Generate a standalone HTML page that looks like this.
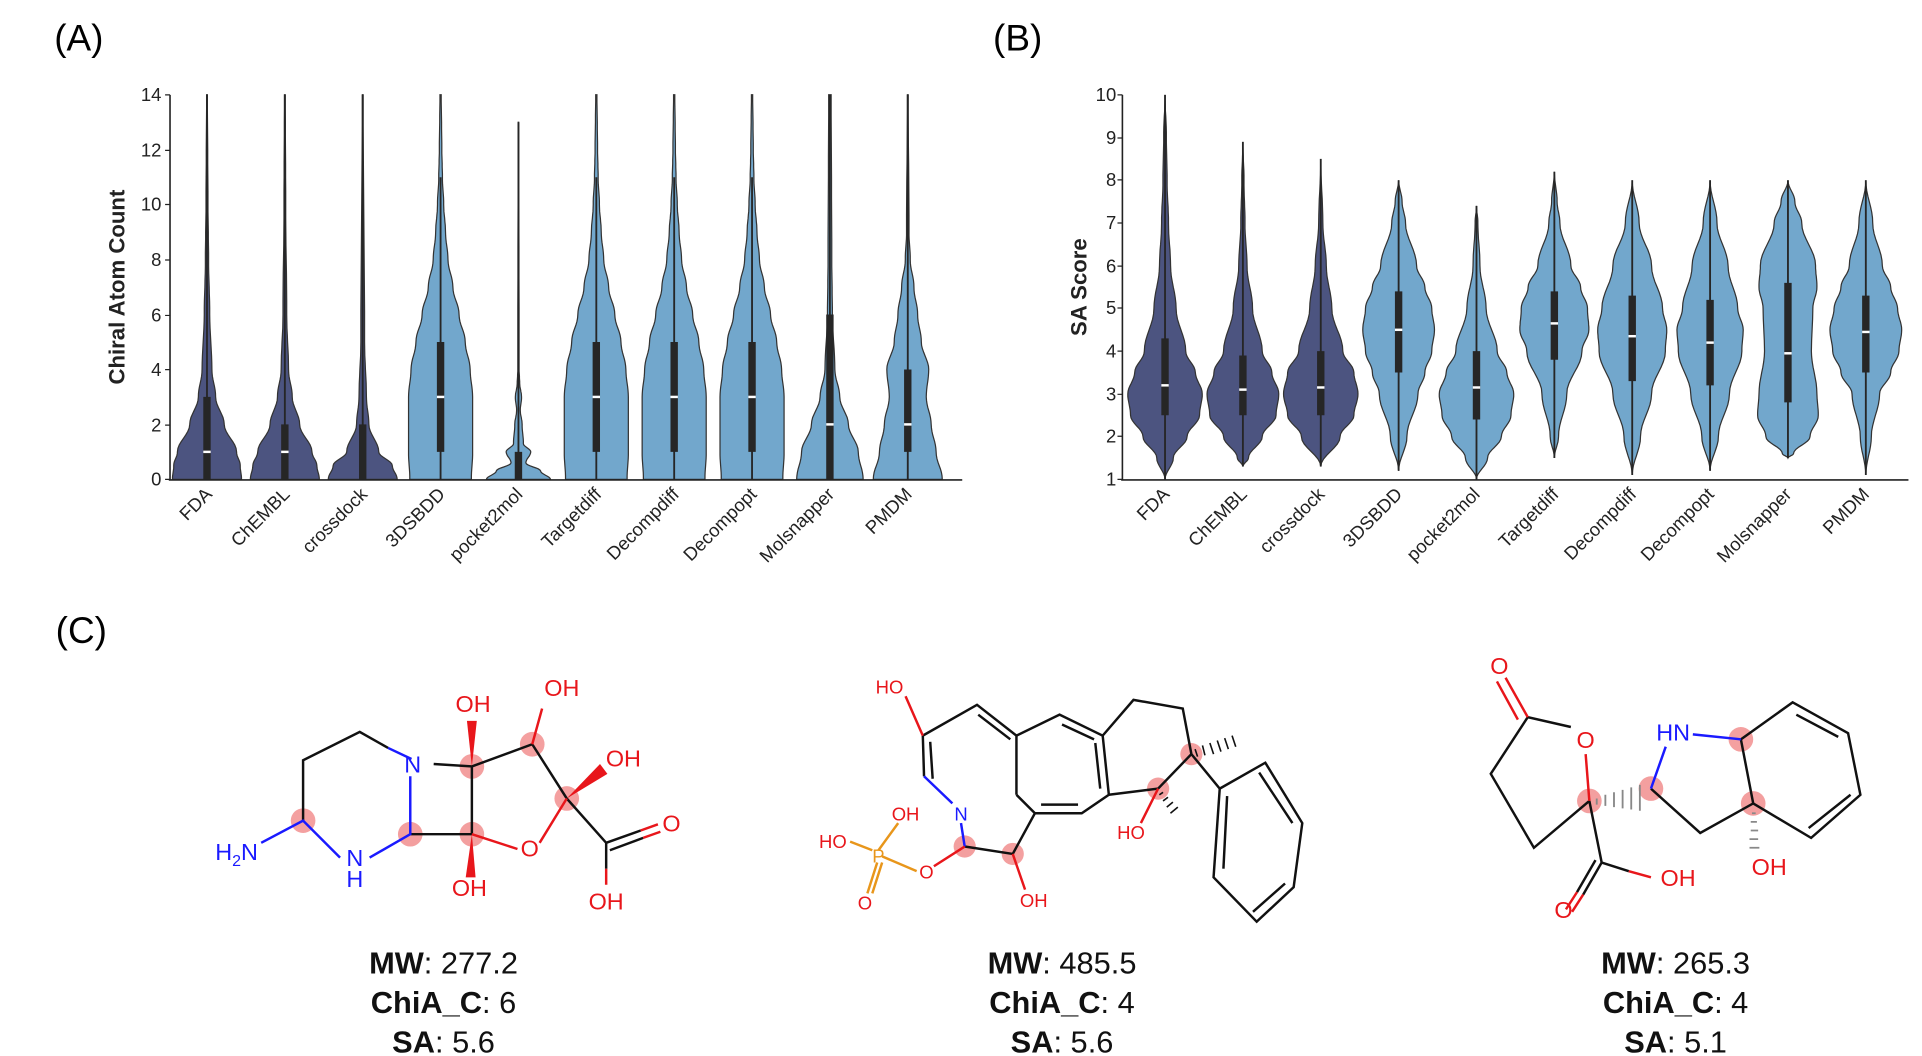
<!DOCTYPE html>
<html><head><meta charset="utf-8"><style>
html,body{margin:0;padding:0;background:#fff;}
svg{display:block;font-family:"Liberation Sans",sans-serif;}
</style></head><body>
<svg id="s" width="1922" height="1056" viewBox="0 0 1560 857" preserveAspectRatio="none" xmlns="http://www.w3.org/2000/svg">
<rect width="1560" height="857" fill="#fff"/>
<text x="64" y="41" font-size="30" text-anchor="middle">(A)</text>
<text x="826" y="41" font-size="30" text-anchor="middle">(B)</text>
<text x="66" y="522" font-size="30" text-anchor="middle">(C)</text>

<g id="vA"></g><g id="vB"></g>

<g stroke="#222" stroke-width="1.3" fill="none">
<line x1="138" y1="77" x2="138" y2="390"/><line x1="137" y1="389.5" x2="781" y2="389.5"/>
<line x1="911" y1="77" x2="911" y2="390"/><line x1="910" y1="389.5" x2="1549" y2="389.5"/>
</g>
<g font-size="15" fill="#222" text-anchor="end">
<text x="131" y="394">0</text><text x="131" y="350">2</text><text x="131" y="305">4</text><text x="131" y="261">6</text><text x="131" y="216">8</text><text x="131" y="171">10</text><text x="131" y="127">12</text><text x="131" y="82">14</text>
<text x="906" y="394">1</text><text x="906" y="359">2</text><text x="906" y="325">3</text><text x="906" y="290">4</text><text x="906" y="255">5</text><text x="906" y="221">6</text><text x="906" y="186">7</text><text x="906" y="151">8</text><text x="906" y="117">9</text><text x="906" y="82">10</text>
</g>
<g stroke="#222" stroke-width="1"><path d="M134 389H138M134 345H138M134 300H138M134 256H138M134 211H138M134 166H138M134 122H138M134 77H138"/>
<path d="M907 389H911M907 354H911M907 320H911M907 285H911M907 250H911M907 216H911M907 181H911M907 146H911M907 112H911M907 77H911"/></g>
<text transform="translate(101,233) rotate(-90)" font-size="18" font-weight="bold" text-anchor="middle" fill="#222">Chiral Atom Count</text>
<text transform="translate(882,233) rotate(-90)" font-size="18" font-weight="bold" text-anchor="middle" fill="#222">SA Score</text>
<g font-size="15" fill="#222" text-anchor="end">
<g transform="translate(173,402) rotate(-45)"><text>FDA</text></g>
<g transform="translate(236,402) rotate(-45)"><text>ChEMBL</text></g>
<g transform="translate(299,402) rotate(-45)"><text>crossdock</text></g>
<g transform="translate(362,402) rotate(-45)"><text>3DSBDD</text></g>
<g transform="translate(425,402) rotate(-45)"><text>pocket2mol</text></g>
<g transform="translate(489,402) rotate(-45)"><text>Targetdiff</text></g>
<g transform="translate(552,402) rotate(-45)"><text>Decompdiff</text></g>
<g transform="translate(615,402) rotate(-45)"><text>Decompopt</text></g>
<g transform="translate(678,402) rotate(-45)"><text>Molsnapper</text></g>
<g transform="translate(741,402) rotate(-45)"><text>PMDM</text></g>
<g transform="translate(950,402) rotate(-45)"><text>FDA</text></g>
<g transform="translate(1013,402) rotate(-45)"><text>ChEMBL</text></g>
<g transform="translate(1076,402) rotate(-45)"><text>crossdock</text></g>
<g transform="translate(1139,402) rotate(-45)"><text>3DSBDD</text></g>
<g transform="translate(1202,402) rotate(-45)"><text>pocket2mol</text></g>
<g transform="translate(1266,402) rotate(-45)"><text>Targetdiff</text></g>
<g transform="translate(1329,402) rotate(-45)"><text>Decompdiff</text></g>
<g transform="translate(1392,402) rotate(-45)"><text>Decompopt</text></g>
<g transform="translate(1455,402) rotate(-45)"><text>Molsnapper</text></g>
<g transform="translate(1518,402) rotate(-45)"><text>PMDM</text></g>
</g>

<!-- Molecule 1 -->
<g fill="#f08080" opacity="0.75">
<circle cx="246" cy="666" r="10"/><circle cx="333" cy="677" r="10"/><circle cx="383" cy="622" r="10"/><circle cx="383" cy="677" r="10"/><circle cx="432" cy="604" r="10"/><circle cx="460" cy="648" r="10"/>
</g>
<g stroke="#111" stroke-width="2" fill="none">
<path d="M246 666L246 617L292 594L315 607"/>
<path d="M333 677L383 677L383 622L352 620M383 622L432 604L460 648L492 684L492 705M492 684L520 674M495 690L522 680"/>
</g>
<g stroke="#1a1aff" stroke-width="2" fill="none"><path d="M315 607L334 616M333 630L333 677L300 696M276 696L246 666L212 684"/></g>
<g stroke="#e8161b" stroke-width="2" fill="none"><path d="M383 677L420 689M438 684L460 648M432 604L440 575M520 674L534 669M522 680L536 675M492 705L492 718"/></g>
<g fill="#e8161b"><polygon points="383,622 379,585 387,585"/><polygon points="383,677 378,712 386,712"/><polygon points="460,648 487,620 493,628"/></g>
<g font-size="19" text-anchor="middle" fill="#1a1aff"><text x="335" y="627">N</text><text x="288" y="703">N</text><text x="288" y="720">H</text><text x="192" y="698">H<tspan font-size="13" dy="5">2</tspan><tspan dy="-5">N</tspan></text></g>
<g font-size="19" text-anchor="middle" fill="#e8161b"><text x="384" y="578">OH</text><text x="456" y="565">OH</text><text x="506" y="622">OH</text><text x="430" y="695">O</text><text x="545" y="675">O</text><text x="381" y="727">OH</text><text x="492" y="738">OH</text></g>

<!-- Molecule 2 -->
<g fill="#f08080" opacity="0.75"><circle cx="783" cy="687" r="9"/><circle cx="822" cy="693" r="9"/><circle cx="967" cy="612" r="9"/><circle cx="940" cy="640" r="9"/></g>
<g stroke="#111" stroke-width="2" fill="none">
<path d="M749 597L793 572L825 597L825 645M755 602L757 632M794 580L820 600M749 597L750 630"/>
<path d="M825 645L840 660L822 693L783 687M840 660L878 660L900 645L895 597L860 580L825 597M845 653L875 653M893 640L889 603M862 588L888 600"/>
<path d="M895 597L920 568L960 575L967 612L940 640L900 645M967 612L990 640L1027 619L1057 668L1050 720L1020 748L985 712L990 640M1022 627L1049 668M1043 717L1017 740M993 705L996 646"/>
</g>
<g stroke="#1a1aff" stroke-width="2" fill="none"><path d="M750 630L773 652M780 668L783 687"/></g>
<g stroke="#e8161b" stroke-width="2" fill="none"><path d="M749 597L735 565M783 687L758 703M822 693L832 722M940 640L926 668"/></g>
<g stroke="#e8961b" stroke-width="2" fill="none"><path d="M744 707L716 695M713 690L729 668M708 690L690 683M712 700L704 725M716 700L708 725"/></g>
<g stroke="#111" stroke-width="1.3"><path d="M970 608L972 614M976 605L978 613M982 603L985 612M988 601L991 610M994 599L997 608M1000 597L1003 606M944 643L941 645M948 647L944 650M952 651L947 655M956 655L950 660"/></g>
<g font-size="15" text-anchor="middle" fill="#e8161b"><text x="722" y="563">HO</text><text x="735" y="666">OH</text><text x="676" y="688">HO</text><text x="702" y="738">O</text><text x="752" y="713">O</text><text x="839" y="736">OH</text><text x="918" y="681">HO</text></g>
<text x="780" y="666" font-size="15" text-anchor="middle" fill="#1a1aff">N</text>
<text x="713" y="700" font-size="15" text-anchor="middle" fill="#e8961b">P</text>

<!-- Molecule 3 -->
<g fill="#f08080" opacity="0.75"><circle cx="1290" cy="650" r="10"/><circle cx="1340" cy="640" r="10"/><circle cx="1413" cy="600" r="10"/><circle cx="1423" cy="652" r="10"/></g>
<g stroke="#111" stroke-width="2" fill="none">
<path d="M1275 590L1240 582L1210 628L1245 688L1290 650L1300 700L1322 707M1300 700L1285 726M1295 698L1280 724"/>
<path d="M1413 600L1423 652L1380 676L1340 640M1413 600L1455 570L1500 595L1510 645L1470 680L1423 652M1458 580L1492 598M1502 645L1468 672"/>
</g>
<g stroke="#e8161b" stroke-width="2" fill="none"><path d="M1240 582L1222 550M1232 584L1215 553M1287 612L1290 650M1285 726L1276 740M1280 724L1271 738M1322 707L1340 712"/></g>
<g stroke="#1a1aff" stroke-width="2" fill="none"><path d="M1340 640L1352 606M1374 596L1413 600"/></g>
<g stroke="#888" stroke-width="1.5"><path d="M1296 648L1296 653M1303 645L1303 654M1310 643L1310 655M1317 641L1317 656M1324 639L1324 657M1331 637L1331 658M1422 660H1425M1421 667H1426M1421 674H1427M1420 681H1427M1420 688H1428"/></g>
<g font-size="19" text-anchor="middle" fill="#e8161b"><text x="1217" y="547">O</text><text x="1287" y="607">O</text><text x="1269" y="745">O</text><text x="1362" y="719">OH</text><text x="1436" y="710">OH</text></g>
<text x="1358" y="601" font-size="19" text-anchor="middle" fill="#1a1aff">HN</text>

<g font-size="25" text-anchor="middle" fill="#111">
<text x="360" y="790"><tspan font-weight="bold">MW</tspan>: 277.2</text>
<text x="360" y="822"><tspan font-weight="bold">ChiA_C</tspan>: 6</text>
<text x="360" y="854"><tspan font-weight="bold">SA</tspan>: 5.6</text>
<text x="862" y="790"><tspan font-weight="bold">MW</tspan>: 485.5</text>
<text x="862" y="822"><tspan font-weight="bold">ChiA_C</tspan>: 4</text>
<text x="862" y="854"><tspan font-weight="bold">SA</tspan>: 5.6</text>
<text x="1360" y="790"><tspan font-weight="bold">MW</tspan>: 265.3</text>
<text x="1360" y="822"><tspan font-weight="bold">ChiA_C</tspan>: 4</text>
<text x="1360" y="854"><tspan font-weight="bold">SA</tspan>: 5.1</text>
</g>
</svg>
<script>
var NS="http://www.w3.org/2000/svg";
var D="#4c5480",L="#72a7cc";
function yA(v){return 389-22.29*v}
function yB(v){return 389-34.67*(v-1)}
function violin(g,cx,prof,fy,col,box,sc){
 var pts=[];for(var i=0;i<prof.length-1;i++){var a=prof[i],b=prof[i+1];for(var k=0;k<8;k++){var t=k/8,s=(1-Math.cos(Math.PI*t))/2;pts.push([a[0]+(b[0]-a[0])*t,(a[1]+(b[1]-a[1])*s)*sc]);}}
 var lp=prof[prof.length-1];pts.push([lp[0],lp[1]*sc]);
 var d="M";pts.forEach(function(p,i){d+=(i?"L":"")+(cx+p[1]).toFixed(1)+" "+fy(p[0]).toFixed(1)});
 for(var j=pts.length-1;j>=0;j--){d+="L"+(cx-pts[j][1]).toFixed(1)+" "+fy(pts[j][0]).toFixed(1)}
 d+="Z";
 var p=document.createElementNS(NS,"path");p.setAttribute("d",d);p.setAttribute("fill",col);p.setAttribute("stroke","#333");p.setAttribute("stroke-width","1");g.appendChild(p);
 function ln(y1,y2,w){var l=document.createElementNS(NS,"line");l.setAttribute("x1",cx);l.setAttribute("x2",cx);l.setAttribute("y1",y1);l.setAttribute("y2",y2);l.setAttribute("stroke","#262626");l.setAttribute("stroke-width",w);g.appendChild(l);}
 ln(fy(box[0]),fy(box[1]),1.5);ln(fy(box[2]),fy(box[3]),6);
 if(box[4]!=null){var m=document.createElementNS(NS,"line");m.setAttribute("x1",cx-3);m.setAttribute("x2",cx+3);m.setAttribute("y1",fy(box[4]));m.setAttribute("y2",fy(box[4]));m.setAttribute("stroke","#fff");m.setAttribute("stroke-width","2");g.appendChild(m);}
}
var gA=document.getElementById("vA"),gB=document.getElementById("vB");
var big=[[0,25],[1,26],[2,26],[3,26],[4,24],[5,20],[6,15],[7,10],[8,6],[9,4],[10,2.5],[11,1.5],[12,1],[14,0.5]];
var A=[
[D,[[0,28],[0.5,27],[1,24],[2,14],[3,7],[4,4],[6,2.2],[8,1.3],[10,0.8],[14,0.3]],[0,14,0,3,1]],
[D,[[0,28],[0.5,26],[1,22],[2,12],[3,6],[4,3],[6,1.5],[10,0.7],[14,0.3]],[0,14,0,2,1]],
[D,[[0,28],[0.5,24],[1,13],[2,5],[3,3],[5,1.5],[14,0.3]],[0,14,0,2,null]],
[L,big,[0,11,1,5,3]],
[L,[[0,26],[0.3,18],[0.6,6],[1,10],[1.3,4],[2,3],[2.5,1.5],[3,2.5],[3.5,1],[4,0.5],[13,0.2]],[0,13,0,1,null]],
[L,big,[0,11,1,5,3]],
[L,big,[0,11,1,5,3]],
[L,big,[0,11,1,5,3]],
[L,[[0,27],[1,23],[2,15],[3,8],[4,4],[6,2],[8,1.5],[14,1]],[0,14,0,6,2]],
[L,[[0,28],[1,23],[2,19],[3,15],[4,17],[5,11],[6,8],[7,5],[8,2],[9,1],[14,0.3]],[0,14,1,4,2]]
];
A.forEach(function(a,i){violin(gA,168+63.2*i,a[1],yA,a[0],a[2],1)});
var B=[
[D,[[1,0],[1.5,6],[2,16],[2.5,25],[3,27],[3.5,22],[4,15],[5,8],[6,4],[7,2.5],[8,1.5],[9,1],[10,0]],[1,10,2.5,4.3,3.2]],
[D,[[1.3,0],[1.5,4],[2,14],[2.5,24],[3,26],[3.5,21],[4,14],[5,7],[6,3],[7,1.5],[8,0.8],[8.9,0]],[1.3,8.9,2.5,3.9,3.1]],
[D,[[1.3,0],[2,14],[2.5,24],[3,27],[3.5,24],[4,16],[5,8],[6,4],[7,1.5],[8.5,0]],[1.3,8.5,2.5,4,3.15]],
[L,[[1.2,0],[2,6],[3,14],[3.5,19],[4,24],[4.5,26],[5,24],[5.5,19],[6,13],[7,5],[7.5,2.5],[8,0]],[1.2,8,3.5,5.4,4.5]],
[L,[[1,0],[1.5,8],[2,18],[2.5,25],[3,27],[3.5,22],[4,15],[5,7],[6,2.5],[7,1],[7.4,0]],[1,7.4,2.4,4,3.15]],
[L,[[1.5,0],[2,3],[3,9],[4,20],[4.5,25],[5,24],[5.5,19],[6,12],[7,4],[7.5,2],[8.2,0]],[1.5,8.2,3.8,5.4,4.65]],
[L,[[1.1,0],[2,6],[3,14],[4,24],[4.5,25],[5,22],[6,14],[7,5],[8,0]],[1.1,8,3.3,5.3,4.35]],
[L,[[1.2,0],[2,6],[3,14],[4,23],[4.5,24],[5,20],[6,13],[7,5],[8,0]],[1.2,8,3.2,5.2,4.2]],
[L,[[1.5,0],[1.6,4],[2,16],[2.5,22],[3,21],[4,17],[5,18],[5.5,21],[6,20],[7,10],[7.5,5],[8,0]],[1.5,8,2.8,5.6,3.95]],
[L,[[1.1,0],[2,4],[3,10],[3.5,18],[4,24],[4.5,26],[5,23],[5.5,18],[6,12],[7,5],[8,0]],[1.1,8,3.5,5.3,4.45]]
];
B.forEach(function(a,i){violin(gB,945.6+63.2*i,a[1],yB,a[0],a[2],1.12)});
</script>
</body></html>
